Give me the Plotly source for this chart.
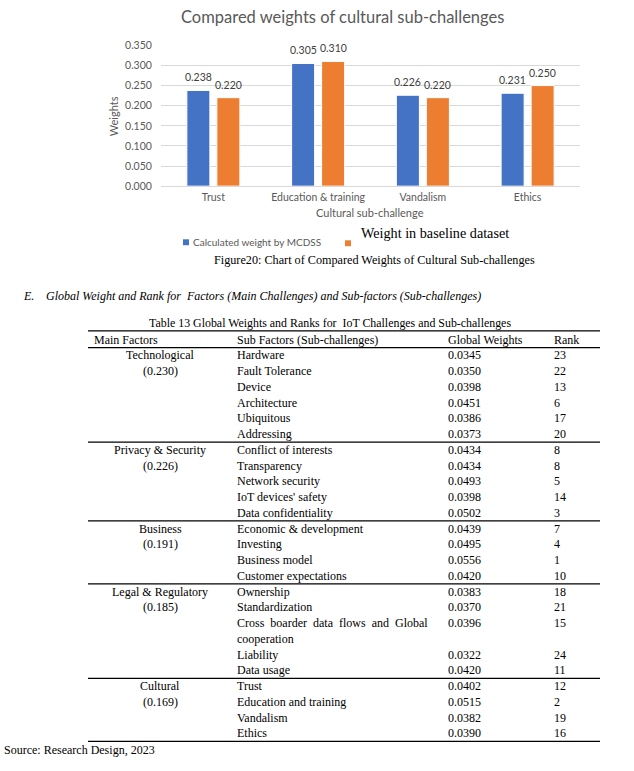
import plotly.graph_objects as go

W, H = 634, 771

# ---------------- chart data ----------------
categories = ["Trust", "Education & training", "Vandalism", "Ethics"]
calc_weights = [0.238, 0.305, 0.226, 0.231]
baseline_weights = [0.220, 0.310, 0.220, 0.250]
y_tick_vals = [0.0, 0.05, 0.10, 0.15, 0.20, 0.25, 0.30, 0.35]
y_tick_text = ["0.000", "0.050", "0.100", "0.150", "0.200", "0.250", "0.300", "0.350"]
series_names = ["Calculated weight by MCDSS", "Weight in baseline dataset"]

# ---------------- table data ----------------
main_factors = ["Technological", "Privacy & Security", "Business", "Legal & Regulatory", "Cultural"]
main_weights = ["(0.230)", "(0.226)", "(0.191)", "(0.185)", "(0.169)"]
sub_factors = [
    ["Hardware", "Fault Tolerance", "Device", "Architecture", "Ubiquitous", "Addressing"],
    ["Conflict of interests", "Transparency", "Network security", "IoT devices' safety", "Data confidentiality"],
    ["Economic & development", "Investing", "Business model", "Customer expectations"],
    ["Ownership", "Standardization", "Cross boarder data flows and Global|cooperation", "Liability", "Data usage"],
    ["Trust", "Education and training", "Vandalism", "Ethics"],
]
global_weights = [
    ["0.0345", "0.0350", "0.0398", "0.0451", "0.0386", "0.0373"],
    ["0.0434", "0.0434", "0.0493", "0.0398", "0.0502"],
    ["0.0439", "0.0495", "0.0556", "0.0420"],
    ["0.0383", "0.0370", "0.0396", "0.0322", "0.0420"],
    ["0.0402", "0.0515", "0.0382", "0.0390"],
]
ranks = [
    ["23", "22", "13", "6", "17", "20"],
    ["8", "8", "5", "14", "3"],
    ["7", "4", "1", "10"],
    ["18", "21", "15", "24", "11"],
    ["12", "2", "19", "16"],
]
table_headers = ["Main Factors", "Sub Factors (Sub-challenges)", "Global Weights", "Rank"]

BLUE = "#4472C4"
ORANGE = "#ED7D31"
GRAY = "#595959"
SANS = "Lato"
SERIF = "Liberation Serif"


def px_x(x):
    return x / W


def px_y(y):
    return 1 - y / H


fig = go.Figure()
for name, vals, col in zip(series_names, [calc_weights, baseline_weights], [BLUE, ORANGE]):
    fig.add_trace(go.Bar(
        x=categories, y=vals, name=name,
        marker=dict(color=col, line=dict(color="white", width=1)),
        cliponaxis=False, showlegend=False,
    ))

annotations = []
shapes = []

# data labels, anchored to the bars through the data axes
for vals, shift in zip([calc_weights, baseline_weights], [-15, 15]):
    for c, v in zip(categories, vals):
        annotations.append(dict(
            x=c, y=v, xref="x", yref="y", text=f"{v:.3f}", showarrow=False,
            xanchor="center", yanchor="bottom", xshift=shift, yshift=6,
            font=dict(family=SANS, size=10.5, color="#404040"), borderpad=0,
        ))


def txt(x, y, s, size=12, family=SERIF, color="black", xanchor="left", italic=False, angle=0):
    if italic:
        s = f"<i>{s}</i>"
    annotations.append(dict(
        x=px_x(x), y=px_y(y), xref="paper", yref="paper", text=s, showarrow=False,
        xanchor=xanchor, yanchor="middle", textangle=angle,
        font=dict(family=family, size=size, color=color), borderpad=0,
    ))


def hline(x0, x1, y, width=1.2):
    shapes.append(dict(type="line", xref="paper", yref="paper",
                       x0=px_x(x0), x1=px_x(x1), y0=px_y(y), y1=px_y(y),
                       line=dict(color="black", width=width)))


# chart texts
txt(342, 11, "Compared weights of cultural sub-challenges", size=16.5, family=SANS, color=GRAY, xanchor="center")
txt(113, 112, "Weights", size=11, family=SANS, color=GRAY, xanchor="center", angle=-90)
txt(370, 210, "Cultural sub-challenge", size=11, family=SANS, color=GRAY, xanchor="center")

# legend (manual)
shapes.append(dict(type="rect", xref="paper", yref="paper", x0=px_x(183), x1=px_x(189),
                   y0=px_y(243), y1=px_y(237), fillcolor=BLUE, line=dict(width=0)))
txt(192, 240, series_names[0], size=10, family=SANS, color=GRAY)
shapes.append(dict(type="rect", xref="paper", yref="paper", x0=px_x(345), x1=px_x(351),
                   y0=px_y(244), y1=px_y(238), fillcolor=ORANGE, line=dict(width=0)))
txt(360, 231, series_names[1], size=14.2, family=SERIF, color="black")

# captions
txt(374, 258, "Figure20: Chart of Compared Weights of Cultural Sub-challenges", size=12.2, xanchor="center")
txt(22, 295, "E.", size=12, italic=True)
txt(45, 295, "Global Weight and Rank for&nbsp; Factors (Main Challenges) and Sub-factors (Sub-challenges)", size=12, italic=True)
txt(330, 322, "Table 13 Global Weights and Ranks for&nbsp; IoT Challenges and Sub-challenges", size=11.9, xanchor="center")

# table
X_MAIN_L, X_MAIN_C, X_SUB, X_GW, X_RANK = 93, 160, 236, 447, 553
TL, TR = 88, 600
ROW0, STEP = 355, 16
hline(TL, TR, 330)
txt(X_MAIN_L, 339, table_headers[0])
txt(X_SUB, 339, table_headers[1])
txt(X_GW, 339, table_headers[2])
txt(X_RANK, 339, table_headers[3])
hline(TL, TR, 347)

line_i = 0
for g, (mf, mw) in enumerate(zip(main_factors, main_weights)):
    txt(X_MAIN_C, ROW0 + STEP * line_i, mf, xanchor="center")
    txt(X_MAIN_C, ROW0 + STEP * (line_i + 1), mw, xanchor="center")
    for sf, gw, rk in zip(sub_factors[g], global_weights[g], ranks[g]):
        y = ROW0 + STEP * line_i
        parts = sf.split("|")
        first = parts[0]
        if len(parts) > 1:
            first = first.replace(" ", "&nbsp;&nbsp;")
        txt(X_SUB, y, first)
        txt(X_GW, y, gw)
        txt(X_RANK, y, rk)
        line_i += 1
        for extra in parts[1:]:
            txt(X_SUB, ROW0 + STEP * line_i, extra)
            line_i += 1
    hline(TL, TR, ROW0 + STEP * (line_i - 0.5))

txt(3, 756, "Source: Research Design, 2023", size=12)

fig.update_layout(
    width=W, height=H, margin=dict(l=0, r=0, t=0, b=0),
    paper_bgcolor="white", plot_bgcolor="white",
    barmode="group", bargap=0.427, bargroupgap=0.233,
    annotations=annotations, shapes=shapes, showlegend=False,
    xaxis=dict(domain=[px_x(161), px_x(580)], showgrid=False, showline=True,
               linecolor="#D9D9D9", linewidth=1, ticks="outside", ticklen=1,
               tickcolor="rgba(0,0,0,0)",
               tickfont=dict(family=SANS, size=10.5, color=GRAY), fixedrange=True),
    yaxis=dict(domain=[px_y(183), px_y(40)], range=[0, 0.35], tickvals=y_tick_vals,
               ticktext=y_tick_text, showgrid=True, gridcolor="#D9D9D9", gridwidth=1,
               zeroline=False, showline=False, ticks="outside", ticklen=6,
               tickcolor="rgba(0,0,0,0)",
               tickfont=dict(family=SANS, size=10.5, color=GRAY), fixedrange=True),
)

fig.write_html(
    "out.html",
    config={"displayModeBar": False},
    post_script="document.body.style.margin='0';document.body.style.padding='0';document.body.style.overflow='hidden';",
)
